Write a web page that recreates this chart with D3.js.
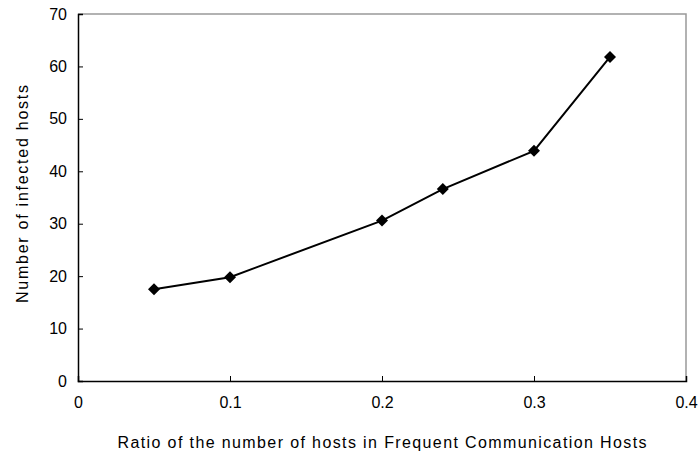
<!DOCTYPE html>
<html>
<head>
<meta charset="utf-8">
<script src="https://cdn.jsdelivr.net/npm/d3@7"></script>
<style>
  body { margin: 0; background: #fff; }
  text { font-family: "Liberation Sans", "DejaVu Sans", sans-serif; fill: #000; }
</style>
</head>
<body>
<div id="chart"></div>
<script>
/* Infected hosts vs ratio of hosts in Frequent Communication Hosts */

const ratios = [0.05, 0.1, 0.2, 0.24, 0.3, 0.35];
const infected = [17.5, 19.8, 30.6, 36.6, 43.9, 61.8];
const xTicks = [0, 0.1, 0.2, 0.3, 0.4];
const yTicks = [0, 10, 20, 30, 40, 50, 60, 70];

const data = ratios.map((r, i) => ({ratio: r, num: infected[i]}));

const width = 700,
    height = 456,
    margin = ({top: 14, right: 14, bottom: 75, left: 78});

let svg = d3.select("#chart")
    .append("svg")
    .attr("width", width)
    .attr("height", height);

let x = d3.scaleLinear()
    .domain([0, 0.4])
    .range([margin.left, width - margin.right]);

let y = d3.scaleLinear()
    .domain([0, 70])
    .range([height - margin.bottom, margin.top]);

// gray frame on top and right
svg.append("path")
    .attr("d", `M${x(0)},${y(70)}H${x(0.4)}V${y(0)}`)
    .attr("fill", "none")
    .attr("stroke", "#999")
    .attr("stroke-width", 1.5);

const xAxis = g => g
    .attr("transform", `translate(0,${y(0)})`)
    .call(d3.axisTop(x).tickValues(xTicks).tickSize(5).tickFormat(d3.format("")))
    .call(g => g.select(".domain").attr("stroke", "#000").attr("stroke-width", 1.5))
    .call(g => g.selectAll(".tick text")
        .attr("y", 27)
        .attr("dy", 0)
        .attr("font-size", 16));

const yAxis = g => g
    .attr("transform", `translate(${x(0)},0)`)
    .call(d3.axisRight(y).tickValues(yTicks).tickSize(5))
    .call(g => g.select(".domain").attr("stroke", "#000").attr("stroke-width", 1.5))
    .call(g => g.selectAll(".tick text")
        .attr("x", -11)
        .attr("text-anchor", "end")
        .attr("font-size", 16));

svg.append("g").call(xAxis);
svg.append("g").call(yAxis);

svg.selectAll(".tick line").attr("stroke", "#000");

let line = d3.line()
    .x(d => x(d.ratio))
    .y(d => y(d.num));

svg.append("path")
    .datum(data)
    .attr("fill", "none")
    .attr("stroke", "#000")
    .attr("stroke-width", 2)
    .attr("d", line);

svg.selectAll(".pt")
    .data(data)
    .join("path")
    .attr("class", "pt")
    .attr("d", d3.symbol(d3.symbolSquare, 72))
    .attr("transform", d => `translate(${x(d.ratio)},${y(d.num)}) rotate(45)`)
    .attr("fill", "#000");

// axis titles
svg.append("text")
    .attr("x", (x(0) + x(0.4)) / 2)
    .attr("y", 448)
    .attr("text-anchor", "middle")
    .attr("font-size", 16)
    .attr("textLength", 529)
    .attr("lengthAdjust", "spacing")
    .text("Ratio of the number of hosts in Frequent Communication Hosts");

svg.append("text")
    .attr("transform", `translate(28,194) rotate(-90)`)
    .attr("text-anchor", "middle")
    .attr("font-size", 16)
    .attr("textLength", 218)
    .attr("lengthAdjust", "spacing")
    .text("Number of infected hosts");
</script>
</body>
</html>
